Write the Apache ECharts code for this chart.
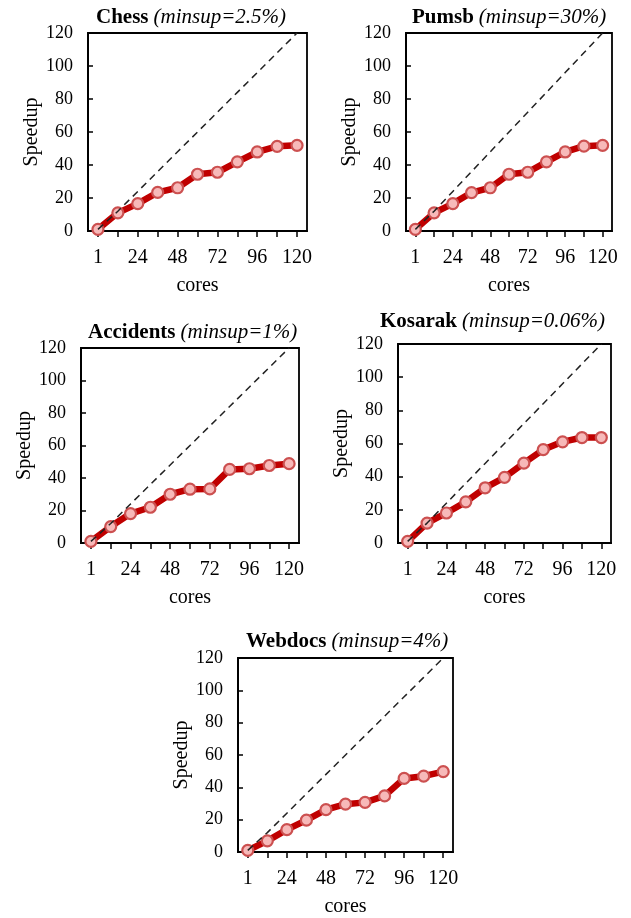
<!DOCTYPE html>
<html>
<head>
<meta charset="utf-8">
<script src="https://cdn.jsdelivr.net/npm/echarts@6/dist/echarts.min.js"></script>
<style>
html,body{margin:0;padding:0;background:#fff;}
#chart{width:631px;height:918px;}
</style>
</head>
<body>
<div id="chart"></div>
<script>
// ---- data ----
const cores = ['1','12','24','36','48','60','72','84','96','108','120'];
const ideal = [1,12,24,36,48,60,72,84,96,108,120];
const chess = [1,11,16.6,23.4,26.2,34.4,35.6,41.9,47.9,51.3,51.9];
const pumsb = [1,11,16.6,23.3,26.2,34.4,35.6,41.9,47.9,51.4,51.9];
const accidents = [1,10.1,18.1,22,30,33.1,33.3,45.3,45.7,47.7,48.8];
const kosarak = [1,12,18.1,24.8,33.3,39.6,48.2,56.3,61,63.6,63.6];
const webdocs = [1,6.9,13.8,19.7,26.2,29.6,30.7,34.7,45.5,46.9,49.7];
const names = ['Chess','Pumsb','Accidents','Kosarak','Webdocs'];
const minsups = ['(minsup=2.5%)','(minsup=30%)','(minsup=1%)','(minsup=0.06%)','(minsup=4%)'];
const yTicks = [0,20,40,60,80,100,120];
const seriesData = [chess,pumsb,accidents,kosarak,webdocs];

// ---- layout ----
const panels = [
  {left:88, top:33, width:219, height:198, tx:96, ty:7},
  {left:406, top:33, width:206, height:198, tx:412, ty:7},
  {left:81, top:348, width:218, height:195, tx:88, ty:322},
  {left:398, top:344, width:213, height:199, tx:380, ty:311},
  {left:238, top:658, width:215, height:198, tx:246, ty:631}
];
const FONT = 'Liberation Serif';

const option = {
  backgroundColor:'#fff',
  animation:false,
  title:[], grid:[], xAxis:[], yAxis:[], series:[]
};

panels.forEach((p,i)=>{
  option.title.push({
    text:'{b|'+names[i]+'} {i|'+minsups[i]+'}',
    left:p.tx, top:p.ty, padding:0,
    textStyle:{
      fontWeight:'normal',
      rich:{
        b:{fontFamily:FONT,fontWeight:'bold',fontSize:21,color:'#000'},
        i:{fontFamily:FONT,fontStyle:'italic',fontWeight:'normal',fontSize:21,color:'#000'}
      }
    }
  });
  option.grid.push({left:p.left, top:p.top, width:p.width, height:p.height,
    show:true, borderColor:'#000', borderWidth:1.8, backgroundColor:'transparent'});
  option.xAxis.push({
    gridIndex:i, type:'category', data:cores, boundaryGap:true,
    name:'cores', nameLocation:'middle', nameGap:45,
    nameTextStyle:{fontFamily:FONT,fontSize:20,color:'#000'},
    axisLine:{lineStyle:{color:'#000',width:2}},
    axisTick:{show:true, alignWithLabel:true, interval:0, length:6, lineStyle:{color:'#000',width:1.5}},
    axisLabel:{interval:1, margin:17, fontFamily:FONT, fontSize:20, color:'#000'},
    splitLine:{show:false}
  });
  option.yAxis.push({
    gridIndex:i, type:'value', min:yTicks[0], max:yTicks[yTicks.length-1], interval:yTicks[1]-yTicks[0],
    name:'Speedup', nameLocation:'middle', nameGap:45,
    nameTextStyle:{fontFamily:FONT,fontSize:20,color:'#000'},
    axisLine:{show:true, lineStyle:{color:'#000',width:2}},
    axisTick:{show:true, inside:true, length:5, lineStyle:{color:'#000',width:1.5}},
    axisLabel:{margin:15, fontFamily:FONT, fontSize:18, color:'#000'},
    splitLine:{show:false}
  });
  option.series.push({
    type:'line', xAxisIndex:i, yAxisIndex:i, data:seriesData[i],
    symbol:'circle', symbolSize:11, showSymbol:true,
    lineStyle:{color:'#c00000', width:6.5},
    itemStyle:{color:'#f7b9b9', borderColor:'#cc5050', borderWidth:2.2},
    z:2
  });
  option.series.push({
    type:'line', xAxisIndex:i, yAxisIndex:i, data:ideal,
    symbol:'none',
    lineStyle:{color:'#222', width:1.5, type:[7,5]},
    z:3
  });
});

const chart = echarts.init(document.getElementById('chart'), null, {renderer:'canvas'});
chart.setOption(option);
</script>
</body>
</html>
